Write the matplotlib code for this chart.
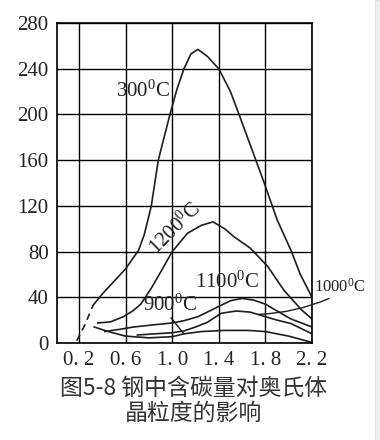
import matplotlib.pyplot as plt
from matplotlib.patches import Rectangle

plt.rcParams['font.family'] = ['Liberation Serif', 'Noto Sans CJK SC', 'DejaVu Sans']
plt.rcParams['mathtext.fontset'] = 'custom'
plt.rcParams['mathtext.rm'] = 'Liberation Serif'
plt.rcParams['mathtext.it'] = 'Liberation Serif:italic'

# ==================== 資料 ====================
# 含碳量 (%) 與晶粒數據
c_300_dash = [0.18, 0.25, 0.32]
g_300_dash = [2, 16, 33]
c_300 = [0.32, 0.40, 0.50, 0.60, 0.71, 0.76, 0.82, 0.88, 0.98, 1.04, 1.10, 1.16,
         1.22, 1.30, 1.40, 1.50, 1.57, 1.70, 1.79, 1.90, 2.02, 2.10, 2.20]
g_300 = [33, 43, 54, 65, 81, 95, 120, 160, 200, 222, 240, 253,
         257, 251, 240, 220, 201, 165, 140, 108, 81, 60, 40]

c_1200 = [0.36, 0.47, 0.58, 0.66, 0.73, 0.82, 0.90, 1.00, 1.13, 1.25, 1.35,
          1.45, 1.53, 1.67, 1.82, 1.96, 2.11, 2.20]
g_1200 = [17.5, 18.5, 23, 28, 34, 48, 62, 80, 96, 103, 106,
          100, 93, 83, 67, 46, 29, 21]

c_1100 = [0.42, 0.55, 0.67, 0.85, 1.00, 1.10, 1.22, 1.32, 1.40, 1.50, 1.60,
          1.70, 1.80, 1.90, 2.02, 2.20]
g_1100 = [10, 12, 14, 16, 17.5, 19.5, 23, 28, 32, 37, 39,
          37.5, 34, 28, 21, 14]

c_1000 = [0.70, 0.85, 1.00, 1.10, 1.20, 1.30, 1.42, 1.55, 1.67, 1.80, 1.90, 2.02, 2.20]
g_1000 = [7, 8, 9, 10.5, 14, 18, 26, 28, 27, 23, 20, 17, 8]

c_900 = [0.33, 0.45, 0.60, 0.80, 1.00, 1.10, 1.25, 1.45, 1.65, 1.80, 1.90, 2.00, 2.20]
g_900 = [14, 10, 6, 4.5, 5.5, 8, 10, 11, 11, 10, 8, 6, 0.5]

x_ticks = [0.2, 0.6, 1.0, 1.4, 1.8, 2.2]
x_labels = ['0. 2', '0. 6', '1. 0', '1. 4', '1. 8', '2. 2']
y_ticks = [0, 40, 80, 120, 160, 200, 240, 280]

# ==================== 畫圖 ====================
fig = plt.figure(figsize=(3.8, 4.4), dpi=100)
ax = fig.add_axes([0.150, 0.2205, 0.671, 0.727])

line_col = '#1e1e1e'
lw = 1.2
ax.plot(c_300_dash, g_300_dash, color=line_col, lw=lw, linestyle=(0, (4, 3)))
ax.plot(c_300, g_300, color=line_col, lw=lw)
ax.plot(c_1200, g_1200, color=line_col, lw=lw)
ax.plot(c_1100, g_1100, color=line_col, lw=lw)
ax.plot(c_1000, g_1000, color=line_col, lw=lw)
ax.plot(c_900, g_900, color=line_col, lw=lw)

ax.set_xlim(0.01, 2.2)
ax.set_ylim(0, 280)
ax.set_xticks(x_ticks)
ax.set_xticklabels(x_labels)
ax.set_yticks(y_ticks)
ax.tick_params(length=0, labelsize=15, colors='#222222', pad=6)
ax.grid(True, color='black', lw=1.0)
for s in ax.spines.values():
    s.set_color('black')
    s.set_linewidth(1.2)

# 曲線標示
txt = dict(color='#222222', fontsize=15, ha='center', va='center')
ax.text(0.75, 220, '300$^{0}$C', **txt)
ax.text(1.03, 100, '1200$^{0}$C', rotation=45, **txt)
ax.text(1.47, 53, '1100$^{0}$C', **txt)
ax.text(0.98, 33, '900$^{0}$C', **txt)
ax.text(2.44, 49, '1000$^{0}$C', color='#222222', fontsize=12, ha='center',
        va='center', clip_on=False)
# 引線
ax.annotate('', xy=(1.72, 25), xytext=(2.37, 40),
            arrowprops=dict(arrowstyle='-', color=line_col, lw=1.0,
                            connectionstyle='arc3,rad=-0.1'), annotation_clip=False)
ax.plot([0.99, 1.10], [22, 8], color=line_col, lw=1.0)

# 圖說
fig.text(0.51, 0.118, '图5-8 钢中含碳量对奥氏体', fontsize=16.5, ha='center', va='center',
         color='#333333', family=['Noto Sans CJK SC', 'DejaVu Sans'])
fig.text(0.51, 0.060, '晶粒度的影响', fontsize=16.5, ha='center', va='center',
         color='#333333', family=['Noto Sans CJK SC', 'DejaVu Sans'])

# 右側捲軸
fig.patches.append(Rectangle((375 / 380, 0), 5 / 380, 1, transform=fig.transFigure,
                             facecolor='#f0f0f0', edgecolor='#dddddd', lw=0.8))

fig.savefig('out.png', dpi=100)
print('✅ 圖已儲存為 out.png')
